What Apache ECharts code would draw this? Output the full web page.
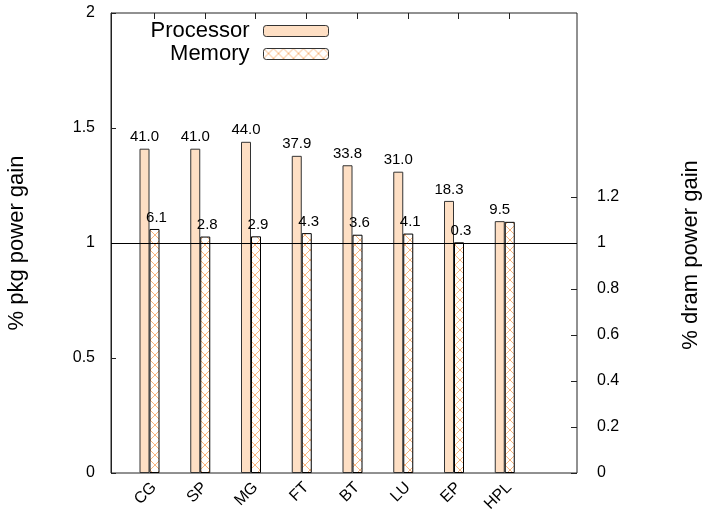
<!DOCTYPE html>
<html>
<head>
<meta charset="utf-8">
<script src="https://cdn.jsdelivr.net/npm/echarts@6/dist/echarts.min.js"></script>
<style>html,body{margin:0;padding:0;background:#fff}#c{width:705px;height:512px}</style>
</head>
<body>
<div id="c"></div>
<script>
var categories = ['CG', 'SP', 'MG', 'FT', 'BT', 'LU', 'EP', 'HPL'];
var procGain = [1.410, 1.410, 1.440, 1.379, 1.338, 1.310, 1.183, 1.095];
var memGain = [1.061, 1.028, 1.029, 1.043, 1.036, 1.041, 1.003, 1.092];
var procLabels = ['41.0', '41.0', '44.0', '37.9', '33.8', '31.0', '18.3', '9.5'];
var memLabels = ['6.1', '2.8', '2.9', '4.3', '3.6', '4.1', '0.3', ''];

var FONT = 'Liberation Sans, Arial, Helvetica, sans-serif';

// cross-hatch pattern
var pc = document.createElement('canvas');
pc.width = 10; pc.height = 10;
var g = pc.getContext('2d');
g.fillStyle = '#ffffff'; g.fillRect(0, 0, 10, 10);
g.strokeStyle = '#f8b57c'; g.lineWidth = 1;
g.beginPath(); g.moveTo(0, 0); g.lineTo(10, 10); g.moveTo(10, 0); g.lineTo(0, 10); g.stroke();
var hatch = { image: pc, repeat: 'repeat' };

var chart = echarts.init(document.getElementById('c'), null, { renderer: 'canvas' });

var L = 111, R = 705 - 577, T = 13, B = 512 - 473;
var band = 50.75;
var n = categories.length;

var option = {
  animation: false,
  textStyle: { fontFamily: FONT },
  grid: [
    { left: L, right: R, top: T, bottom: B, show: true, borderColor: '#222', borderWidth: 1, backgroundColor: 'transparent', outerBoundsMode: 'none', containLabel: false },
    { left: 149.5 - band / 2, width: band * n, top: T, bottom: B, outerBoundsMode: 'none', containLabel: false },
    { left: 154 - band / 2, width: band * n, top: T, bottom: B, outerBoundsMode: 'none', containLabel: false },
    { left: L, right: R, top: 473 - 1.2 * 230, bottom: B, outerBoundsMode: 'none', containLabel: false }
  ],
  legend: [
    { data: ['Processor'], right: 705 - 329, top: 20, align: 'right', itemWidth: 65, itemHeight: 11, itemGap: 0, padding: 0,
      textStyle: { fontSize: 22, color: '#000', fontFamily: FONT, lineHeight: 22, padding: [0, 9, 0, 0] },
      itemStyle: { borderWidth: 1, borderColor: '#333' } },
    { data: ['Memory'], right: 705 - 329, top: 43, align: 'right', itemWidth: 65, itemHeight: 11, itemGap: 0, padding: 0,
      textStyle: { fontSize: 22, color: '#000', fontFamily: FONT, lineHeight: 22, padding: [0, 9, 0, 0] },
      itemStyle: { borderWidth: 1, borderColor: '#333' } }
  ],
  xAxis: [
    { gridIndex: 0, type: 'value', min: 0, max: 1, show: false, axisLine: { onZero: false } },
    { gridIndex: 1, type: 'category', data: categories, show: false, axisLine: { onZero: false } },
    { gridIndex: 2, type: 'category', data: categories, position: 'bottom',
      axisLine: { show: false, onZero: false }, axisTick: { show: false },
      axisLabel: { rotate: 45, margin: 12, fontSize: 16, color: '#000', fontFamily: FONT, interval: 0 } },
    { gridIndex: 2, type: 'category', data: categories, position: 'top',
      axisLine: { show: false, onZero: false }, axisLabel: { show: false },
      axisTick: { show: true, inside: true, length: 6, alignWithLabel: true, lineStyle: { color: '#222' } } },
    { gridIndex: 3, type: 'value', min: 0, max: 1, show: false, axisLine: { onZero: false } }
  ],
  yAxis: [
    { gridIndex: 0, type: 'value', position: 'left', min: 0, max: 2, interval: 0.5,
      name: '% pkg power gain', nameLocation: 'middle', nameGap: 83, nameRotate: 90,
      nameTextStyle: { fontSize: 22, color: '#000', fontFamily: FONT },
      axisLine: { show: true, onZero: false, lineStyle: { color: '#222' } },
      axisTick: { show: true, inside: true, length: 5, lineStyle: { color: '#222' } },
      axisLabel: { fontSize: 16, color: '#000', margin: 16, fontFamily: FONT },
      splitLine: { show: false } },
    { gridIndex: 0, type: 'value', position: 'right', min: 0, max: 2,
      name: '% dram power gain', nameLocation: 'middle', nameGap: 103, nameRotate: 90,
      nameTextStyle: { fontSize: 22, color: '#000', fontFamily: FONT, padding: [0, 24, 0, 0] },
      axisLine: { show: false, onZero: false }, axisTick: { show: false }, axisLabel: { show: false }, splitLine: { show: false } },
    { gridIndex: 1, type: 'value', min: 0, max: 2, show: false, axisLine: { onZero: false } },
    { gridIndex: 2, type: 'value', min: 0, max: 2, show: false, axisLine: { onZero: false } },
    { gridIndex: 3, type: 'value', position: 'right', min: 0, max: 1.2, interval: 0.2,
      axisLine: { show: false, onZero: false },
      axisTick: { show: true, inside: true, length: 6, lineStyle: { color: '#222' } },
      axisLabel: { fontSize: 16, color: '#000', margin: 20, fontFamily: FONT },
      splitLine: { show: false } }
  ],
  series: [
    { type: 'line', xAxisIndex: 0, yAxisIndex: 0, data: [], silent: true,
      markLine: { silent: true, symbol: 'none', label: { show: false },
        lineStyle: { color: '#000', width: 1, type: 'solid' }, data: [{ yAxis: 1 }] } },
    { name: 'Processor', type: 'bar', xAxisIndex: 1, yAxisIndex: 2, data: procGain,
      barWidth: 10, barGap: '0%',
      itemStyle: { color: '#fedfc4', borderColor: '#333', borderWidth: 1 },
      label: { show: true, position: 'top', distance: 4, fontSize: 15, color: '#000', fontFamily: FONT,
        formatter: function (p) { return procLabels[p.dataIndex]; } } },
    { name: 'Memory', type: 'bar', xAxisIndex: 1, yAxisIndex: 2, data: memGain,
      barWidth: 10, barGap: '0%',
      itemStyle: { color: hatch, borderColor: '#000', borderWidth: 1 },
      label: { show: true, position: 'top', distance: 4, offset: [2, 0], fontSize: 15, color: '#000', fontFamily: FONT,
        formatter: function (p) { return memLabels[p.dataIndex]; } } }
  ]
};
chart.setOption(option);
</script>
</body>
</html>
